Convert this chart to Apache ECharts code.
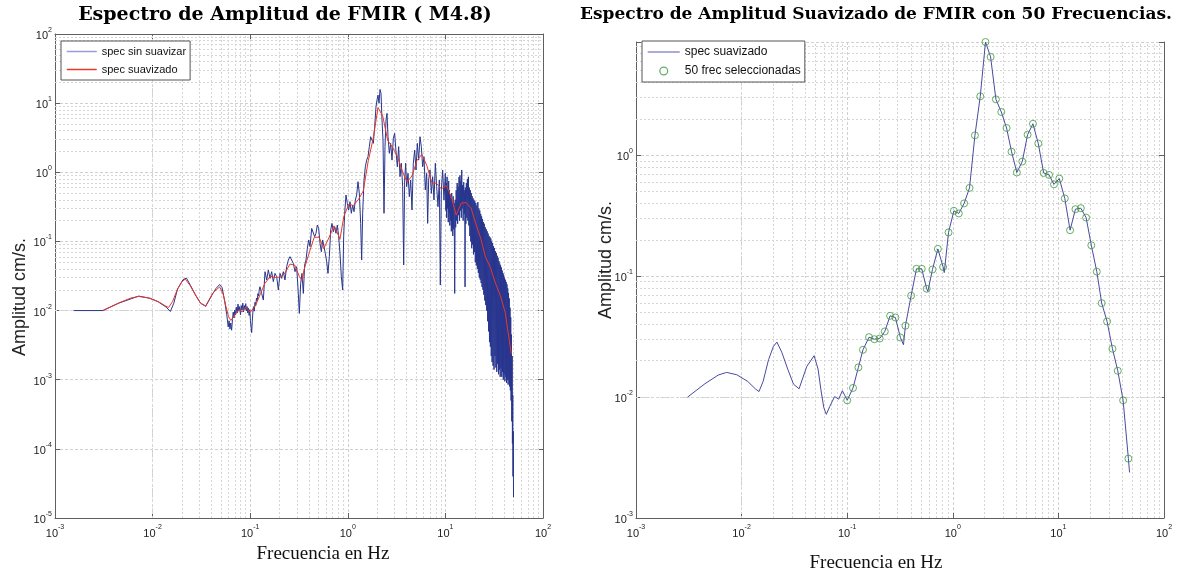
<!DOCTYPE html>
<html><head><meta charset="utf-8">
<script src="https://cdn.jsdelivr.net/npm/echarts@6/dist/echarts.min.js"></script>
<style>html,body{margin:0;padding:0;background:#fff}#c{width:1177px;height:575px}</style>
</head><body><div id="c"></div>
<script>
// ---- data ----
const rawSpecLow = [
[0.00155,0.0100],[0.0031,0.0100],[0.0045,0.0128],[0.0072,0.0162],[0.0095,0.0150],[0.0114,0.0134],[0.0138,0.0112],[0.0152,0.0097],[0.0165,0.0128],[0.0180,0.0205],[0.0205,0.0280],[0.0222,0.0295],[0.0245,0.0230],[0.0275,0.0168],[0.0310,0.0128],[0.0350,0.0115],[0.0400,0.0162],[0.0445,0.0208],[0.0486,0.0238],[0.0515,0.0215],[0.0545,0.0142],[0.0575,0.0088],[0.0595,0.0058],[0.0608,0.0071],[0.0620,0.0054],[0.0632,0.0066],[0.0645,0.0052],[0.0658,0.0074],[0.0670,0.0095],[0.0682,0.0078],[0.0695,0.0102],[0.0708,0.0086],[0.0720,0.0112],[0.0735,0.0092],[0.0750,0.0124],[0.0765,0.0098],[0.0780,0.0114],[0.0795,0.0087],[0.0810,0.0118],[0.0825,0.0102],[0.0840,0.0128],[0.0855,0.0096],[0.0870,0.0118],[0.0885,0.0104],[0.0900,0.0126],[0.0915,0.0099],[0.0930,0.0114],[0.0945,0.0092],[0.0960,0.0108],[0.0975,0.0085],[0.0990,0.0103],[0.1005,0.0072],[0.1020,0.0058],[0.1035,0.0048],[0.1050,0.0069],[0.1065,0.0095],[0.1080,0.0114],[0.1100,0.0098],[0.1120,0.0132],[0.1140,0.0118],[0.1160,0.0152],[0.1180,0.0138],[0.1200,0.0176],[0.1220,0.0162],[0.1240,0.0205],[0.1260,0.0221]
];
const rawSpecMid = [
[0.131,0.0177],[0.1364,0.0142],[0.1418,0.0365],[0.1475,0.0277],[0.1534,0.0386],[0.1596,0.0292],[0.166,0.0365],[0.1726,0.0262],[0.1795,0.0345],[0.1867,0.0309],[0.1942,0.0198],[0.202,0.0345],[0.21,0.0292],[0.2185,0.0365],[0.2272,0.0277],[0.2363,0.0431],[0.2458,0.0538],[0.2557,0.0602],[0.266,0.0538],[0.2766,0.0482],[0.2877,0.0365],[0.2992,0.0431],[0.3112,0.0177],[0.3186,0.0091],[0.3288,0.0247],[0.3393,0.0345],[0.3503,0.0177],[0.3614,0.0456],[0.373,0.0538],[0.3849,0.0794],[0.3972,0.105],[0.4101,0.084],[0.4265,0.1545],[0.4435,0.163],[0.4576,0.117],[0.4722,0.131],[0.4874,0.1727],[0.503,0.1545],[0.519,0.0938],[0.5356,0.0711],[0.5528,0.105],[0.5704,0.084],[0.5887,0.067],[0.6074,0.0509],[0.6268,0.0345],[0.6469,0.0602],[0.6676,0.1462],[0.6889,0.1826],[0.711,0.1383],[0.7336,0.163],[0.7571,0.131],[0.7813,0.1727],[0.8063,0.117],[0.832,0.067],[0.8587,0.0309],[0.886,0.0198],[0.907,0.117],[0.9287,0.255],[0.9583,0.469],[0.989,0.3554],
[1.0207,0.2846],[1.0532,0.3757],[1.087,0.255],[1.1215,0.3362],[1.1574,0.2692],[1.1946,0.397],[1.2327,0.469],[1.2721,0.7312],[1.3127,0.496],[1.3548,0.1826],[1.3868,0.0538],[1.42,0.255],[1.4655,0.773],[1.5122,1.2],[1.5607,1.5],[1.6105,1.682],[1.662,2.35],[1.7152,3.27],[1.77,3.46],[1.8267,2.62],[1.885,4.57],[1.9454,8.9],[1.9918,11.1],[2.0393,13.1],[2.088,9.94],[2.1378,15.8],[2.1888,13.9],[2.2411,5.7],[2.2945,2.93],[2.3494,0.255],[2.4054,2.35],[2.463,5.7],[2.5217,7.12],[2.582,3.27],[2.6643,1.88],[2.7495,2.62],[2.8371,1.5],[2.9278,3.1],[3.0214,3.66],[3.1177,1.99],[3.2174,1.2],[3.3199,2.35],[3.4261,0.864],[3.5356,1.35],[3.6483,0.619],[3.7356,0.0456],[3.8246,0.773],[3.9162,1.35],[4.0096,0.619],[4.1378,0.966],[4.2697,0.444],[4.4063,0.773],[4.5467,0.2846],[4.6921,1.35],[4.8422,2.1],[4.9964,1.08],[5.1563,2.62],[5.3211,1.5],[5.4913,3.27],[5.667,2.35],[5.8479,1.2],[6.035,1.68],[6.2274,0.554],[6.4269,0.966],[6.5807,0.1826],[6.7376,0.773],[6.9532,1.08],[7.1747,0.496],[7.4044,0.864],[7.6405,0.397],[7.8852,1.35],[8.1376,0.619],[8.3967,0.318],[8.6654,0.773],[8.8716,0.0234],[9.0843,0.554],[9.3734,1.08],[9.6743,0.397],[9.9816,0.966]
];
const rawSpecHigh = [
[10.0,0.95],[10.1,0.28],[10.2,0.7],[10.3,0.22],[10.4,0.86],[10.5,0.3],[10.6,0.62],[10.7,0.19],[10.8,0.75],[10.9,0.26],[11.0,0.55],[11.1,0.17],[11.2,0.48],[11.3,0.2],[11.4,0.42],[11.5,0.14],[11.6,0.5],[11.7,0.16],[11.8,0.38],[11.9,0.12],[12.0,0.45],[12.15,0.15],[12.3,0.36],[12.45,0.0177],[12.6,0.4],[12.75,0.16],[12.9,0.55],[13.05,0.2],[13.2,0.7],[13.35,0.18],[13.5,0.62],[13.65,0.24],[13.8,0.85],[13.95,0.2],[14.1,0.9],[14.25,0.28],[14.4,0.75],[14.55,0.22],[14.7,1.08],[14.85,0.3],[15.0,0.65],[15.2,0.2],[15.4,0.72],[15.6,0.25],[15.8,0.55],[15.9,0.022],[16.0,0.6],[16.2,0.18],[16.4,0.7],[16.6,0.22],[16.8,0.8],[17.0,0.2],[17.2,0.86],[17.4,0.17],[17.6,0.6],[17.8,0.12],[18.0,0.55],[18.2,0.1],[18.4,0.5],[18.6,0.08],[18.8,0.45],[19.0,0.09],[19.2,0.42],[19.4,0.065],[19.6,0.4],[19.8,0.07],
[20.0,0.38],[20.25,0.05],[20.5,0.36],[20.75,0.045],[21.0,0.33],[21.25,0.04],[21.5,0.37],[21.75,0.035],[22.0,0.3],[22.25,0.03],[22.5,0.28],[22.75,0.028],[23.0,0.25],[23.25,0.025],[23.5,0.23],[23.75,0.022],[24.0,0.21],[24.25,0.02],[24.5,0.19],[24.75,0.017],[25.0,0.18],[25.3,0.014],[25.6,0.16],[25.9,0.012],[26.2,0.15],[26.5,0.01],[26.8,0.14],[27.1,0.007],[27.4,0.13],[27.7,0.005],[28.0,0.12],[28.3,0.0035],[28.6,0.115],[28.9,0.003],[29.2,0.11],[29.5,0.0022],[29.8,0.1],[30.1,0.0018],[30.45,0.095],[30.8,0.0016],[31.15,0.085],[31.5,0.0014],[31.85,0.08],[32.2,0.0022],[32.55,0.072],[32.9,0.0015],[33.25,0.068],[33.6,0.0013],[33.95,0.062],[34.3,0.0017],[34.65,0.058],[35.0,0.0012],[35.35,0.052],[35.7,0.0014],[36.05,0.048],[36.4,0.0011],[36.75,0.045],[37.1,0.0015],[37.45,0.042],[37.8,0.0011],[38.15,0.038],[38.5,0.0013],[38.85,0.035],[39.2,0.001],[39.55,0.033],[39.9,0.0012],
[40.3,0.03],[40.7,0.00095],[41.1,0.028],[41.5,0.0011],[41.9,0.026],[42.3,0.0009],[42.7,0.024],[43.1,0.001],[43.5,0.021],[43.9,0.00085],[44.3,0.018],[44.7,0.001],[45.1,0.015],[45.5,0.0008],[45.9,0.011],[46.3,0.0007],[46.7,0.008],[47.1,0.0005],[47.5,0.0045],[47.9,0.00025],[48.3,0.0022],[48.6,0.00012],[49.0,0.0006],[49.3,0.00004],[49.6,0.00018],[49.9,0.00002]
];
const smoothFreq = [0.00308,0.0045,0.006,0.0072,0.009,0.0114,0.0135,0.0146,0.016,0.018,0.02,0.0216,0.024,0.0275,0.031,0.035,0.0414,0.0486,0.053,0.0564,0.06,0.0634,0.0685,0.076,0.083,0.09,0.095,0.1,0.1135,0.1276,0.141,0.161,0.181,0.203,0.227,0.255,0.286,0.319,0.341,0.356,0.403,0.453,0.508,0.566,0.58,0.642,0.722,0.81,0.83,0.911,1.024,1.14,1.28,1.44,1.62,1.82,2.04,2.28,2.56,2.88,3.23,3.6,4.04,4.55,5.11,5.74,6.45,7.25,8.15,9.08,10.2,11.5,12.9,14.5,16.3,18.3,20.5,23.1,25.7,28.9,32.5,36.5,41,46,47.2];
const smoothAmp  = [0.0100,0.0129,0.0152,0.0160,0.0153,0.0135,0.0117,0.0111,0.0135,0.0204,0.0262,0.0285,0.0235,0.0168,0.0128,0.0117,0.0179,0.0220,0.0170,0.0115,0.0082,0.0072,0.0084,0.0101,0.0096,0.0113,0.0103,0.0094,0.0119,0.0176,0.0246,0.0313,0.0301,0.0305,0.0349,0.047,0.0455,0.0311,0.0271,0.0389,0.069,0.115,0.115,0.0786,0.0747,0.1135,0.168,0.119,0.107,0.23,0.347,0.33,0.40,0.537,1.46,3.07,8.64,6.5,2.9,2.28,1.68,1.07,0.72,0.887,1.48,1.82,1.25,0.714,0.688,0.575,0.641,0.439,0.24,0.358,0.365,0.305,0.18,0.109,0.0598,0.0422,0.0251,0.0165,0.0094,0.0031,0.00238];
const selFreq = [0.1,0.1135,0.1276,0.141,0.161,0.181,0.203,0.227,0.255,0.286,0.319,0.356,0.403,0.453,0.508,0.566,0.642,0.722,0.81,0.911,1.024,1.14,1.28,1.44,1.62,1.82,2.04,2.28,2.56,2.88,3.23,3.6,4.04,4.55,5.11,5.74,6.45,7.25,8.15,9.08,10.2,11.5,12.9,14.5,16.3,18.3,20.5,23.1,25.7,28.9,32.5,36.5,41,46];
const selAmp  = [0.0094,0.0119,0.0176,0.0246,0.0313,0.0301,0.0305,0.0349,0.047,0.0455,0.0311,0.0389,0.069,0.115,0.115,0.0786,0.1135,0.168,0.119,0.23,0.347,0.33,0.40,0.537,1.46,3.07,8.64,6.5,2.9,2.28,1.68,1.07,0.72,0.887,1.48,1.82,1.25,0.714,0.688,0.575,0.641,0.439,0.24,0.358,0.365,0.305,0.18,0.109,0.0598,0.0422,0.0251,0.0165,0.0094,0.0031];
const xRange = [0.001, 100];
const yRangeLeft = [1e-5, 100];
const yRangeRight = [1e-3, 8.64];
const titles = ['Espectro de Amplitud de FMIR ( M4.8)', 'Espectro de Amplitud Suavizado de FMIR con 50 Frecuencias.'];
const xName = 'Frecuencia en Hz';
const yName = 'Amplitud cm/s.';
const legendNames = ['spec sin suavizar', 'spec suavizado', '50 frec seleccionadas'];

// ---- helpers ----
const rawSpec = rawSpecLow.concat(rawSpecMid, rawSpecHigh);
const smoothPairs = smoothFreq.map((f, i) => [f, smoothAmp[i]]);
const selPairs = selFreq.map((f, i) => [f, selAmp[i]]);
const sid = { raw: legendNames[0] + '#L', smoothL: legendNames[1] + '#L', smoothR: legendNames[1] + '#R', sel: legendNames[2] + '#R' };
const legendText = n => n.split('#')[0];
function minorVals(lo, hi) {
  const out = [];
  for (let e = Math.floor(Math.log10(lo)); e <= Math.ceil(Math.log10(hi)); e++)
    for (let d = 2; d <= 9; d++) { const v = d * Math.pow(10, e); if (v > lo * 1.0001 && v < hi * 0.9999) out.push(v); }
  return out;
}
const NARROW = '"Liberation Sans Narrow","Arial Narrow","Liberation Sans",sans-serif';
function fmtLog(v) {
  const e = Math.log10(v), r = Math.round(e);
  if (Math.abs(e - r) > 1e-6) return '';
  return '{b|10}{s|' + r + '}';
}
const labelRich = {
  b: { fontSize: 11, fontFamily: NARROW, color: '#222', lineHeight: 15, verticalAlign: 'bottom' },
  s: { fontSize: 7, fontFamily: NARROW, color: '#222', lineHeight: 9, verticalAlign: 'top' }
};
const AX = '#606060';
function xAx(grid, range, pos, labels) {
  return {
    type: 'log', logBase: 10, gridIndex: grid, min: range[0], max: range[1], position: pos,
    axisLine: { show: true, onZero: false, lineStyle: { color: AX, width: 1 } },
    axisTick: { show: true, inside: true, length: 5, lineStyle: { color: AX } },
    axisLabel: { show: labels, formatter: fmtLog, rich: labelRich, margin: 6, hideOverlap: false },
    splitLine: { show: labels, lineStyle: { color: '#d0d0d0', width: 1, type: [3, 2] } }
  };
}
function yAx(grid, range, pos, labels) {
  return {
    type: 'log', logBase: 10, gridIndex: grid, min: range[0], max: range[1], position: pos,
    axisLine: { show: true, onZero: false, lineStyle: { color: AX, width: 1 } },
    axisTick: { show: true, inside: true, length: 5, lineStyle: { color: AX } },
    axisLabel: { show: labels, formatter: fmtLog, rich: labelRich, margin: 3, hideOverlap: false },
    splitLine: { show: labels, lineStyle: { color: '#d0d0d0', width: 1, type: [3, 2] } }
  };
}
function minorMarks(xr, yr) {
  return {
    silent: true, z: 1, symbol: ['none', 'none'], animation: false,
    label: { show: false }, emphasis: { disabled: true },
    lineStyle: { color: '#d6d6d6', width: 1, type: [2, 2] },
    data: minorVals(xr[0], xr[1]).map(v => ({ xAxis: v })).concat(minorVals(yr[0], yr[1]).map(v => ({ yAxis: v })))
  };
}
const GREEN = '#3d9a3d';
const RED = '#e8382a';
const HIDE = { opacity: 0, color: 'rgba(0,0,0,0)', borderWidth: 0 };
const legendBase = {
  orient: 'vertical', padding: [5, 4, 5, 5], itemGap: 7, itemHeight: 9,
  backgroundColor: '#fff', borderColor: '#555', borderWidth: 1, borderRadius: 0, selectedMode: false,
  formatter: legendText
};

const chart = echarts.init(document.getElementById('c'), null, { renderer: 'canvas' });
chart.setOption({
  animation: false,
  backgroundColor: '#fff',
  grid: [
    { left: 55, top: 34, width: 488, height: 484 },
    { left: 636, top: 42, width: 528, height: 476 }
  ],
  xAxis: [xAx(0, xRange, 'bottom', true), xAx(0, xRange, 'top', false), xAx(1, xRange, 'bottom', true)],
  yAxis: [yAx(0, yRangeLeft, 'left', true), yAx(0, yRangeLeft, 'right', false), yAx(1, yRangeRight, 'left', true), yAx(1, yRangeRight, 'right', false)],
  legend: [
    Object.assign({}, legendBase, {
      left: 61, top: 41, itemWidth: 30,
      textStyle: { fontFamily: NARROW, fontSize: 11, color: '#111' },
      data: [
        { name: sid.raw, itemStyle: HIDE, lineStyle: { color: '#9a9ad6', width: 1.5 } },
        { name: sid.smoothL, itemStyle: HIDE, lineStyle: { color: RED, width: 1.5 } }
      ]
    }),
    Object.assign({}, legendBase, {
      left: 642, top: 41, itemWidth: 32,
      textStyle: { fontFamily: NARROW, fontSize: 12, color: '#111' },
      data: [
        { name: sid.smoothR, itemStyle: HIDE, lineStyle: { color: '#8f8fcf', width: 1.5 } },
        { name: sid.sel, icon: 'path://M8,0A8,8 0 1,1 7.99,0ZM8,2.2A5.8,5.8 0 1,0 8.01,2.2Z', itemStyle: { color: GREEN, borderWidth: 0 } }
      ]
    })
  ],
  series: [
    {
      name: sid.raw, type: 'line', xAxisIndex: 0, yAxisIndex: 0, data: rawSpec,
      symbol: 'none', showSymbol: false, z: 2, lineStyle: { color: '#27358e', width: 1 }, itemStyle: { color: '#27358e' },
      markLine: minorMarks(xRange, yRangeLeft)
    },
    {
      name: sid.smoothL, type: 'line', xAxisIndex: 0, yAxisIndex: 0, data: smoothPairs, color: RED,
      symbol: 'none', showSymbol: false, z: 3, lineStyle: { color: RED, width: 1 }, itemStyle: { color: RED }
    },
    {
      name: sid.smoothR, type: 'line', xAxisIndex: 2, yAxisIndex: 2, data: smoothPairs,
      symbol: 'none', showSymbol: false, z: 2, lineStyle: { color: '#4a4aa0', width: 1 }, itemStyle: { color: '#4a4aa0' },
      markLine: minorMarks(xRange, yRangeRight)
    },
    {
      name: sid.sel, type: 'scatter', xAxisIndex: 2, yAxisIndex: 2, data: selPairs,
      symbol: 'circle', symbolSize: 7, z: 3, clip: false,
      itemStyle: { color: 'rgba(0,0,0,0)', borderColor: GREEN, borderWidth: 1 }
    }
  ],
  graphic: [
    { type: 'text', x: 285, y: 15, style: { text: titles[0], font: 'bold 19px "DejaVu Serif"', fill: '#000', align: 'center', verticalAlign: 'middle' } },
    { type: 'text', x: 876, y: 15, style: { text: titles[1], font: 'bold 17px "DejaVu Serif"', fill: '#000', align: 'center', verticalAlign: 'middle' } },
    { type: 'text', x: 323, y: 554, style: { text: xName, font: '19px "Liberation Serif"', fill: '#111', align: 'center', verticalAlign: 'middle' } },
    { type: 'text', x: 876, y: 563, style: { text: xName, font: '19px "Liberation Serif"', fill: '#111', align: 'center', verticalAlign: 'middle' } },
    { type: 'text', x: 20, y: 297, rotation: Math.PI / 2, style: { text: yName, font: '18px "Liberation Sans"', fill: '#222', align: 'center', verticalAlign: 'middle' } },
    { type: 'text', x: 606, y: 260, rotation: Math.PI / 2, style: { text: yName, font: '18px "Liberation Sans"', fill: '#222', align: 'center', verticalAlign: 'middle' } }
  ]
});
</script>
</body></html>
